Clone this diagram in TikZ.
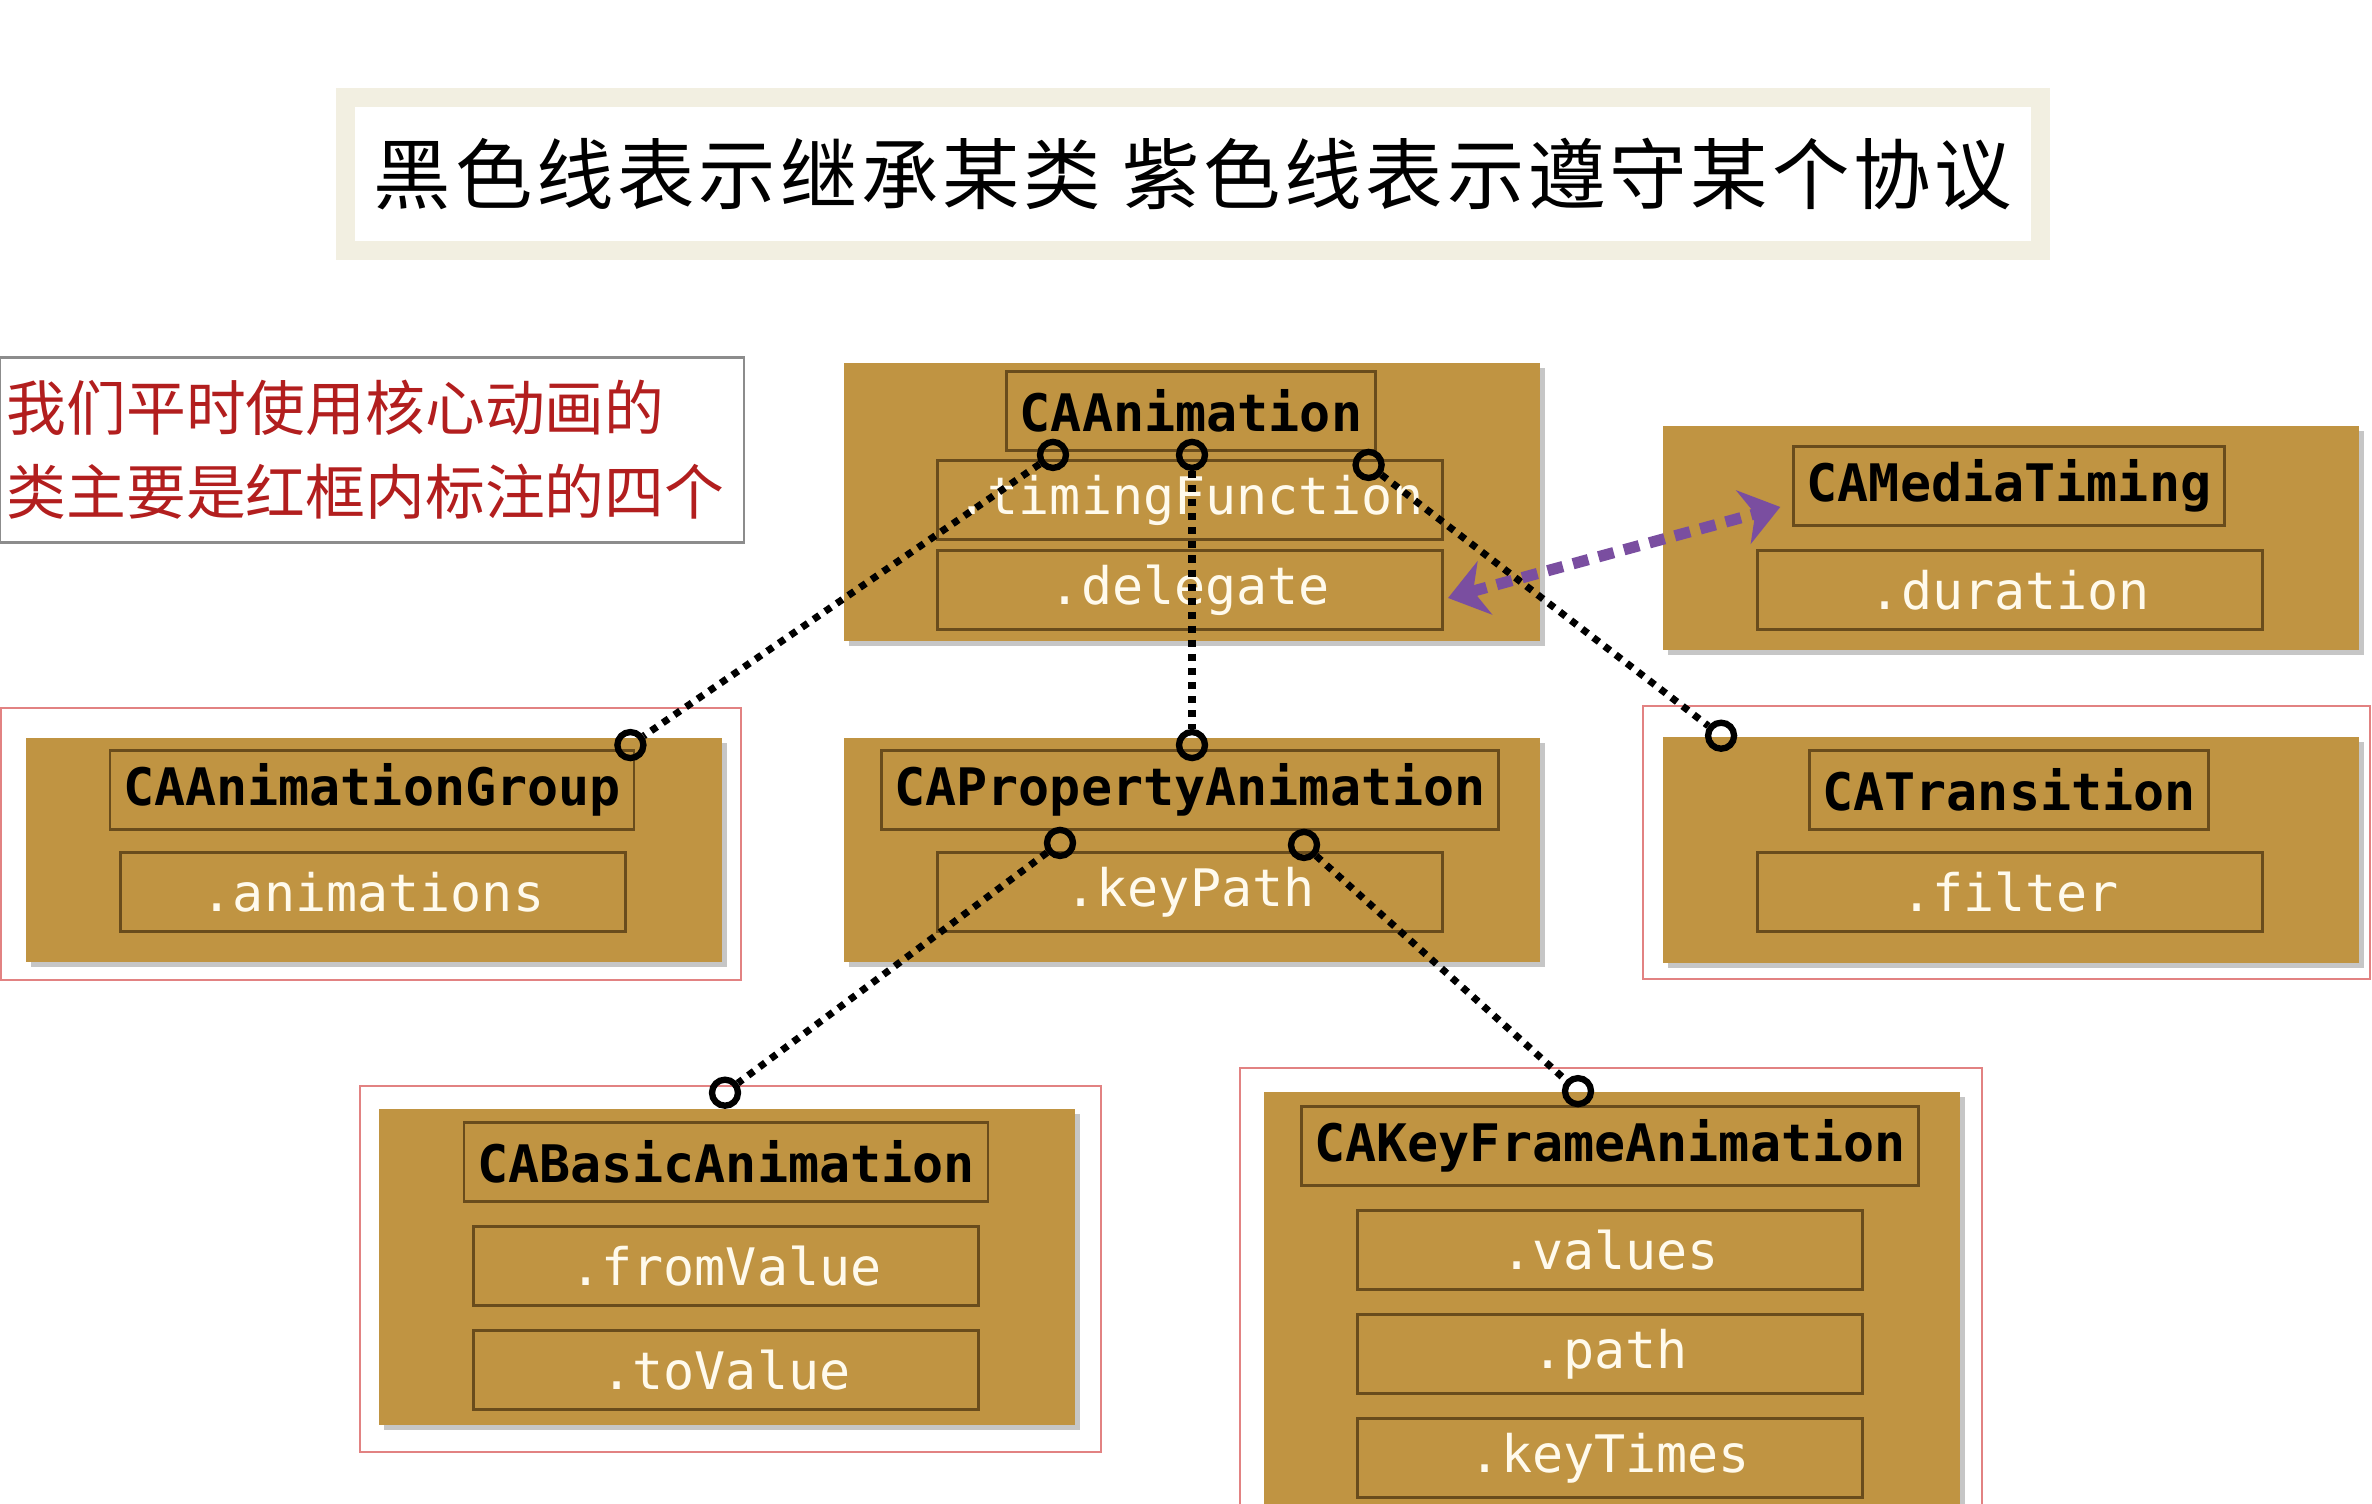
\documentclass[tikz,border=0pt]{standalone}
\usepackage{fontspec}
\setmonofont{DejaVu Sans Mono}
\newfontfamily\cjk{Noto Sans CJK SC}
\newfontfamily\cjkwide[LetterSpace=5]{Noto Sans CJK SC}
\usetikzlibrary{calc,positioning,arrows.meta,shadows}

\definecolor{gold}{RGB}{192,148,66}
\definecolor{edge}{RGB}{105,76,28}
\definecolor{cream}{RGB}{255,250,236}
\definecolor{beige}{RGB}{242,239,225}
\definecolor{pinkline}{RGB}{226,130,130}
\definecolor{notered}{RGB}{178,30,30}
\definecolor{purp}{RGB}{122,78,160}

\begin{document}
\begin{tikzpicture}[
    x=0.01cm, y=-0.01cm,
    every node/.style={inner sep=0pt},
    headbox/.style={rectangle, draw=beige, line width=0.19cm, fill=white,
                    minimum width=16.94cm, minimum height=1.53cm,
                    font=\fontsize{22}{26}\selectfont\cjkwide,
                    drop shadow={shadow xshift=0pt, shadow yshift=-0.07cm, opacity=0.2}},
    note/.style={rectangle, draw=black!45, line width=0.7pt, align=left,
                 text width=7.3cm, inner xsep=0.07cm, minimum height=1.85cm,
                 text=notered, font=\fontsize{17}{23.8}\selectfont\cjk},
    cls/.style={rectangle, fill=gold, minimum width=6.96cm,
                drop shadow={shadow xshift=0.05cm, shadow yshift=-0.05cm, opacity=0.45}},
    clsname/.style={rectangle, draw=edge, line width=0.8pt, inner xsep=0.13cm,
                    minimum height=0.79cm,
                    font=\fontsize{14.7}{16}\selectfont\ttfamily\bfseries},
    prop/.style={rectangle, draw=edge, line width=0.8pt, minimum width=5.05cm,
                 minimum height=0.79cm, text=cream,
                 font=\fontsize{14.7}{16}\selectfont\ttfamily},
    frame/.style={draw=pinkline, line width=0.6pt},
    port/.style={circle, draw=black, line width=1.8pt, minimum size=0.26cm},
    inh/.style={line width=2pt, dash pattern=on 2pt off 2pt},
    proto/.style={draw=purp, line width=3.2pt, dash pattern=on 4.5pt off 3pt,
                  {Stealth[length=0.38cm, width=0.55cm, inset=0.12cm, fill=purp]}-{Stealth[length=0.38cm, width=0.55cm, inset=0.12cm, fill=purp]}}
]
\useasboundingbox (0,0) rectangle (2372,1504);

\node[headbox] (head) at (1193,174) {黑色线表示继承某类 紫色线表示遵守某个协议};
\node[note] (memo) at (372,450) {我们平时使用核心动画的\\类主要是红框内标注的四个};

% red frames
\draw[frame] (1,708) rectangle (741,980);
\draw[frame] (1643,706) rectangle (2370,979);
\draw[frame] (360,1086) rectangle (1101,1452);
\draw[frame] (1240,1068) rectangle (1982,1530);

% classes
\node[cls, minimum height=2.78cm] (anim) at (1192,502) {};
\node[clsname] (animT) at (1191,411) {CAAnimation};
\node[prop] (timing) at (1190,500) {.timingFunction};
\node[prop] (deleg)  at (1190,590) {.delegate};

\node[cls, minimum height=2.23cm] (media) at (2011,538) {};
\node[clsname] (mediaT) at (2009,486) {CAMediaTiming};
\node[prop] (dur) at (2010,590) {.duration};

\node[cls, minimum height=2.24cm] (group) at (374,850) {};
\node[clsname] (groupT) at (372,790) {CAAnimationGroup};
\node[prop] (anims) at (373,892) {.animations};

\node[cls, minimum height=2.24cm] (prop) at (1192,850) {};
\node[clsname] (propT) at (1190,790) {CAPropertyAnimation};
\node[prop] (kpath) at (1190,892) {.keyPath};

\node[cls, minimum height=2.25cm] (trans) at (2011,850) {};
\node[clsname] (transT) at (2009,790) {CATransition};
\node[prop] (filt) at (2010,892) {.filter};

\node[cls, minimum height=3.15cm] (basic) at (727,1267) {};
\node[clsname] (basicT) at (726,1162) {CABasicAnimation};
\node[prop] (fromV) at (726,1266) {.fromValue};
\node[prop] (toV)   at (726,1370) {.toValue};

\node[cls, minimum height=4.48cm] (keyf) at (1612,1316) {};
\node[clsname] (keyfT) at (1610,1146) {CAKeyFrameAnimation};
\node[prop] (vals)  at (1610,1250) {.values};
\node[prop] (pth)   at (1610,1354) {.path};
\node[prop] (ktime) at (1610,1458) {.keyTimes};

% inheritance ports
\node[port] (a1) at ($(animT.south)+(-138,3)$) {};
\node[port] (a2) at ($(animT.south)+(1,3)$) {};
\node[port] (a3) at ($(animT.south east)+(-8,13)$) {};
\node[port] (g1) at ($(groupT.north east)+(-5,-4)$) {};
\node[port] (p1) at ($(propT.north)+(2,-4)$) {};
\node[port] (t1) at ($(trans.north west)+(59,-1)$) {};
\node[port] (p2) at ($(propT.south)+(-130,12)$) {};
\node[port] (p3) at ($(propT.south)+(114,14)$) {};
\node[port] (b1) at ($(basic.north)+(-2,-16)$) {};
\node[port] (k1) at ($(keyf.north)+(-34,0)$) {};

\draw[inh] (a1) -- (g1);
\draw[inh] (a2) -- (p1);
\draw[inh] (a3) -- (t1);
\draw[inh] (p2) -- (b1);
\draw[inh] (p3) -- (k1);

% protocol
\coordinate (dEnd) at ($(deleg.east)+(4,8)$);
\coordinate (mEnd) at ($(mediaT.west)+(-12,21)$);
\draw[proto] (dEnd) -- (mEnd);
\end{tikzpicture}
\end{document}
